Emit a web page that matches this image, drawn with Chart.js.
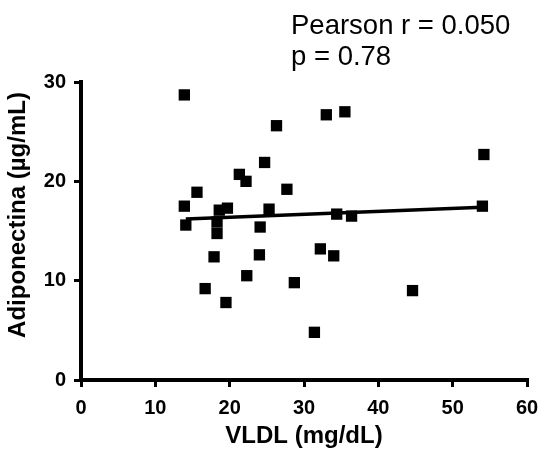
<!DOCTYPE html>
<html>
<head>
<meta charset="utf-8">
<script src="https://cdn.jsdelivr.net/npm/chart.js@4"></script>
<style>
  html, body { margin: 0; padding: 0; background: #fff; }
  #wrap { width: 542px; height: 451px; position: relative; }
</style>
</head>
<body>
<div id="wrap"><canvas id="chart"></canvas></div>
<script>
// VLDL (mg/dL) vs Adiponectina (µg/mL)
const vldl = [13.9, 26.3, 33.0, 35.5, 24.7, 21.3, 22.2, 27.7, 15.6, 13.9,
  18.6, 19.7, 25.3, 14.1, 18.3, 18.3, 24.1, 54.2, 54.0, 34.4,
  36.4, 32.2, 34.0, 17.9, 24.0, 22.3, 16.7, 19.5, 28.7, 44.6, 31.4];
const adiponectina = [28.7, 25.6, 26.7, 27.0, 21.9, 20.7, 20.0, 19.2, 18.9, 17.5,
  17.1, 17.3, 17.2, 15.6, 15.9, 14.75, 15.4, 22.7, 17.5, 16.7,
  16.5, 13.2, 12.5, 12.4, 12.6, 10.5, 9.2, 7.8, 9.8, 9.0, 4.8];

// fitted line endpoints as drawn
const fitX = [14.1, 54.0];
const fitY = [16.2, 17.4];

const xTicks = [0, 10, 20, 30, 40, 50, 60];
const yTicks = [0, 10, 20, 30];

const statLines = ["Pearson r = 0.050", "p = 0.78"];
const xTitle = "VLDL (mg/dL)";
const yTitle = "Adiponectina (\u00b5g/mL)";

const FONT = "'Liberation Sans', Arial, sans-serif";

const scatterPoints = vldl.map((x, i) => ({ x, y: adiponectina[i] }));
const fitPoints = fitX.map((x, i) => ({ x, y: fitY[i] }));

const annotationPlugin = {
  id: "stats",
  afterDraw(chart) {
    const ctx = chart.ctx;
    ctx.save();
    ctx.fillStyle = "#000";
    ctx.font = `27.5px ${FONT}`;
    ctx.textAlign = "left";
    ctx.textBaseline = "alphabetic";
    ctx.fillText(statLines[0], 291, 34);
    ctx.fillText(statLines[1], 291, 65);

    // y axis title
    ctx.font = `bold 24px ${FONT}`;
    ctx.translate(18, 215);
    ctx.rotate(-Math.PI / 2);
    ctx.textAlign = "center";
    ctx.textBaseline = "middle";
    ctx.fillText(yTitle, 0, 0);
    ctx.restore();
  }
};

new Chart(document.getElementById("chart"), {
  data: {
    datasets: [
      {
        type: "scatter",
        data: scatterPoints,
        pointStyle: "rect",
        pointRadius: 8,
        pointHoverRadius: 8,
        backgroundColor: "#000",
        borderColor: "#000",
        borderWidth: 0
      },
      {
        type: "line",
        data: fitPoints,
        borderColor: "#000",
        borderWidth: 3.5,
        pointRadius: 0,
        fill: false
      }
    ]
  },
  options: {
    responsive: true,
    maintainAspectRatio: false,
    animation: false,
    layout: { padding: { left: 0, right: 15, top: 82, bottom: 0 } },
    plugins: {
      legend: { display: false },
      tooltip: { enabled: false }
    },
    scales: {
      x: {
        type: "linear",
        min: 0,
        max: 60,
        afterBuildTicks: (scale) => { scale.ticks = xTicks.map((v) => ({ value: v })); },
        afterFit: (scale) => { scale.height = 71; scale.paddingRight = 0; scale.paddingLeft = 0; },
        border: { display: true, color: "#000", width: 4 },
        grid: { display: true, drawOnChartArea: false, drawTicks: true, tickLength: 7, lineWidth: 3, color: "#000" },
        ticks: { color: "#000", padding: 9, font: { family: FONT, size: 20, weight: "bold" } },
        title: {
          display: true,
          text: xTitle,
          color: "#000",
          padding: { top: 0, bottom: 0 },
          font: { family: FONT, size: 24, weight: "bold" }
        }
      },
      y: {
        type: "linear",
        min: 0,
        max: 30,
        afterBuildTicks: (scale) => { scale.ticks = yTicks.map((v) => ({ value: v })); },
        afterFit: (scale) => { scale.width = 81; },
        border: { display: true, color: "#000", width: 4 },
        grid: { display: true, drawOnChartArea: false, drawTicks: true, tickLength: 7, lineWidth: 3, color: "#000" },
        ticks: { color: "#000", padding: 8, font: { family: FONT, size: 20, weight: "bold" } }
      }
    }
  },
  plugins: [annotationPlugin]
});
</script>
</body>
</html>
